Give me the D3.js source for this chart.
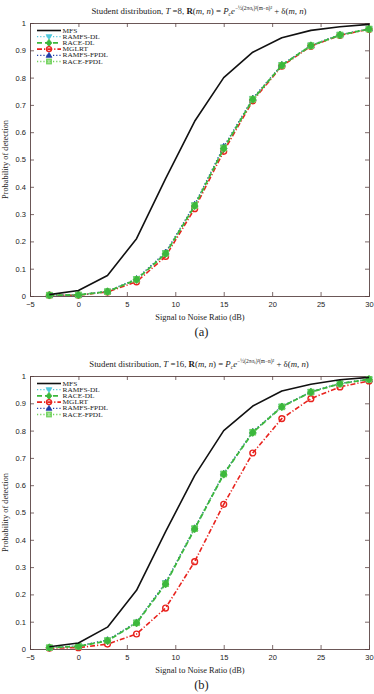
<!DOCTYPE html>
<html>
<head>
<meta charset="utf-8">
<script src="https://cdn.jsdelivr.net/npm/d3@7"></script>
<style>
  body { margin: 0; background: #fff; }
  svg { display: block; }
  .tick text { font-family: "Liberation Sans", Arial, sans-serif; font-size: 7.5px; fill: #222; }
  .serif { font-family: "Liberation Serif", "DejaVu Serif", serif; fill: #222; }
</style>
</head>
<body>
<div id="chart"></div>
<script>
// SNR grid (dB)
const snr = [-3, 0, 3, 6, 9, 12, 15, 18, 21, 24, 27, 30];
const xTicks = [-5, 0, 5, 10, 15, 20, 25, 30];
const yTicks = [0, 0.1, 0.2, 0.3, 0.4, 0.5, 0.6, 0.7, 0.8, 0.9, 1];

// panel (a), T = 8
const mfsA       = [0.005, 0.02, 0.075, 0.21, 0.43, 0.64, 0.80, 0.893, 0.946, 0.973, 0.986, 0.995];
const ramfsDlA   = [0.003, 0.004, 0.017, 0.062, 0.158, 0.333, 0.545, 0.722, 0.846, 0.918, 0.957, 0.978];
const raceDlA    = [0.003, 0.004, 0.016, 0.060, 0.155, 0.330, 0.540, 0.720, 0.845, 0.917, 0.956, 0.978];
const mglrtA     = [0.003, 0.003, 0.015, 0.052, 0.145, 0.320, 0.530, 0.715, 0.842, 0.915, 0.955, 0.977];
const ramfsFpdlA = [0.003, 0.004, 0.017, 0.063, 0.160, 0.335, 0.547, 0.724, 0.847, 0.918, 0.957, 0.979];
const raceFpdlA  = [0.003, 0.004, 0.016, 0.061, 0.156, 0.331, 0.542, 0.721, 0.845, 0.917, 0.956, 0.978];

// panel (b), T = 16
const mfsB       = [0.008, 0.022, 0.08, 0.215, 0.43, 0.635, 0.80, 0.89, 0.945, 0.97, 0.986, 0.995];
const ramfsDlB   = [0.005, 0.011, 0.032, 0.097, 0.242, 0.442, 0.642, 0.795, 0.888, 0.942, 0.973, 0.988];
const raceDlB    = [0.005, 0.010, 0.030, 0.095, 0.238, 0.440, 0.640, 0.793, 0.887, 0.941, 0.972, 0.988];
const mglrtB     = [0.003, 0.005, 0.018, 0.055, 0.150, 0.320, 0.530, 0.718, 0.844, 0.917, 0.960, 0.982];
const ramfsFpdlB = [0.005, 0.011, 0.033, 0.098, 0.243, 0.443, 0.643, 0.796, 0.889, 0.942, 0.973, 0.988];
const raceFpdlB  = [0.005, 0.010, 0.031, 0.096, 0.239, 0.441, 0.641, 0.794, 0.887, 0.941, 0.972, 0.988];

const seriesNames = ['MFS', 'RAMFS-DL', 'RACE-DL', 'MGLRT', 'RAMFS-FPDL', 'RACE-FPDL'];

// draw styles per series (same order as names)
const styles = [
  { color: '#111', dash: null, width: 1.6, marker: null },
  { color: '#4fc8dc', dash: '1.2,2', width: 1.3, marker: 'triDown' },
  { color: '#3cb83c', dash: '5,3', width: 1.8, marker: 'diamond' },
  { color: '#e8231e', dash: '5,2,1.2,2', width: 1.6, marker: 'circle' },
  { color: '#1f3ea8', dash: '1.2,2', width: 1.3, marker: 'triUp' },
  { color: '#6fd15a', dash: '1.2,2', width: 1.3, marker: 'square' }
];

const W = 374, H = 694;
const svg = d3.select('#chart').append('svg').attr('width', W).attr('height', H);

function drawMarker(g, kind, x, y, color, r = 3.3) {
  if (kind === 'circle') {
    g.append('circle').attr('cx', x).attr('cy', y).attr('r', r - 0.4)
      .attr('fill', 'none').attr('stroke', color).attr('stroke-width', 1.4);
  } else if (kind === 'square') {
    g.append('rect').attr('x', x - r + 0.6).attr('y', y - r + 0.6).attr('width', 2 * r - 1.2).attr('height', 2 * r - 1.2)
      .attr('fill', color).attr('fill-opacity', 0.6).attr('stroke', color).attr('stroke-width', 1.2);
  } else if (kind === 'diamond') {
    g.append('path').attr('d', `M${x},${y - r - 0.6}L${x + r},${y}L${x},${y + r + 0.6}L${x - r},${y}Z`)
      .attr('fill', color).attr('stroke', color).attr('stroke-width', 0.8);
  } else if (kind === 'triUp') {
    g.append('path').attr('d', `M${x},${y - r}L${x + r},${y + r * 0.7}L${x - r},${y + r * 0.7}Z`)
      .attr('fill', color).attr('stroke', color).attr('stroke-width', 0.8);
  } else if (kind === 'triDown') {
    g.append('path').attr('d', `M${x},${y + r}L${x + r},${y - r * 0.7}L${x - r},${y - r * 0.7}Z`)
      .attr('fill', color).attr('stroke', color).attr('stroke-width', 0.8);
  }
}

function drawPanel(top, T, data, tag) {
  const left = 30, right = 369, plotTop = top, plotBottom = top + 273;
  const x = d3.scaleLinear().domain([-5, 30]).range([left, right]);
  const y = d3.scaleLinear().domain([0, 1]).range([plotBottom, plotTop]);
  const g = svg.append('g');

  // title
  const title = g.append('text').attr('class', 'serif').attr('x', 199).attr('y', top - 9)
    .attr('text-anchor', 'middle').style('font-size', '8.8px');
  title.append('tspan').text('Student distribution, ');
  title.append('tspan').style('font-style', 'italic').text('T');
  title.append('tspan').text(' =' + T + ', ');
  title.append('tspan').style('font-weight', 'bold').text('R');
  title.append('tspan').text('(');
  title.append('tspan').style('font-style', 'italic').text('m, n');
  title.append('tspan').text(') = ');
  title.append('tspan').style('font-style', 'italic').text('P');
  title.append('tspan').style('font-style', 'italic').style('font-size', '5.6px').attr('dy', 1.8).text('c');
  title.append('tspan').style('font-style', 'italic').attr('dy', -1.8).text('e');
  title.append('tspan').style('font-size', '5.4px').attr('dy', -4).text('\u2212\u00bd(2\u03c0\u03c3');
  title.append('tspan').style('font-size', '4px').attr('dy', 1).text('f');
  title.append('tspan').style('font-size', '5.4px').attr('dy', -1).text(')\u00b2(m\u2212n)\u00b2');
  title.append('tspan').attr('dy', 4).text(' + \u03b4(');
  title.append('tspan').style('font-style', 'italic').text('m, n');
  title.append('tspan').text(')');

  // axes box with inward ticks
  const axisColor = '#5a4444';
  const ax = [
    g.append('g').attr('transform', `translate(0,${plotBottom})`)
      .call(d3.axisBottom(x).tickValues(xTicks).tickSize(-4).tickPadding(6).tickFormat(d3.format('d'))),
    g.append('g').attr('transform', `translate(0,${plotTop})`)
      .call(d3.axisTop(x).tickValues(xTicks).tickSize(-4).tickFormat('')),
    g.append('g').attr('transform', `translate(${left},0)`)
      .call(d3.axisLeft(y).tickValues(yTicks).tickSize(-4).tickPadding(4).tickFormat(d => d3.format('~g')(d))),
    g.append('g').attr('transform', `translate(${right},0)`)
      .call(d3.axisRight(y).tickValues(yTicks).tickSize(-4).tickFormat(''))
  ];
  ax.forEach(a => {
    a.select('.domain').attr('stroke', axisColor).attr('stroke-width', 0.9);
    a.selectAll('.tick line').attr('stroke', axisColor).attr('stroke-width', 0.8);
  });

  // axis labels
  g.append('text').attr('class', 'serif').attr('x', (left + right) / 2 + 0.5).attr('y', plotBottom + 23.5)
    .attr('text-anchor', 'middle').style('font-size', '8.4px').text('Signal to Noise Ratio (dB)');
  g.append('text').attr('class', 'serif')
    .attr('transform', `translate(8,${(plotTop + plotBottom) / 2}) rotate(-90)`)
    .attr('text-anchor', 'middle').style('font-size', '8.4px').text('Probability of detection');
  g.append('text').attr('class', 'serif').attr('x', (left + right) / 2 + 2).attr('y', plotBottom + 40)
    .attr('text-anchor', 'middle').style('font-size', '12.5px').text(tag);

  // curves: markers under lines, MFS on top
  const line = d3.line().x((d, i) => x(snr[i])).y(d => y(d));
  const order = [3, 1, 4, 5, 2, 0];
  order.forEach(k => {
    const s = styles[k];
    g.append('path').attr('d', line(data[k])).attr('fill', 'none')
      .attr('stroke', s.color).attr('stroke-width', s.width)
      .attr('stroke-dasharray', s.dash).attr('stroke-linejoin', 'round');
    if (s.marker) {
      data[k].forEach((v, i) => drawMarker(g, s.marker, x(snr[i]), y(v), s.color));
    }
  });

  // legend (tightly packed, wide low glyphs as in the figure)
  const lg = g.append('g');
  seriesNames.forEach((name, k) => {
    const s = styles[k];
    const ly = plotTop + 7.5 + k * 6.2;
    lg.append('line').attr('x1', 37).attr('x2', 61).attr('y1', ly).attr('y2', ly)
      .attr('stroke', s.color).attr('stroke-width', s.width).attr('stroke-dasharray', s.dash);
    if (s.marker) drawMarker(lg, s.marker, 49, ly, s.color, 2.9);
    lg.append('text').attr('class', 'serif')
      .attr('transform', `translate(62.5,${ly + 2}) scale(1.32,1)`)
      .style('font-size', '5.6px').text(name);
  });
}

drawPanel(23, 8, [mfsA, ramfsDlA, raceDlA, mglrtA, ramfsFpdlA, raceFpdlA], '(a)');
drawPanel(376, 16, [mfsB, ramfsDlB, raceDlB, mglrtB, ramfsFpdlB, raceFpdlB], '(b)');
</script>
</body>
</html>
